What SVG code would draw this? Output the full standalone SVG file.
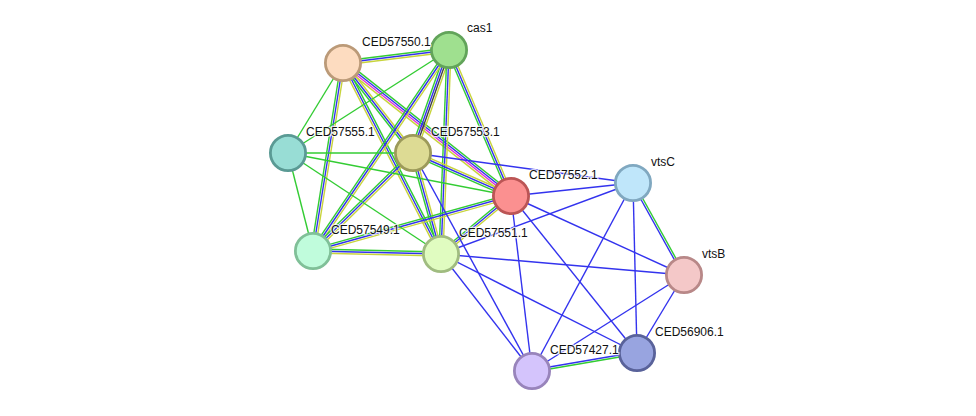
<svg xmlns="http://www.w3.org/2000/svg" width="976" height="416" viewBox="0 0 976 416">
<style>
line{stroke-width:1.4;fill:none}
.g{stroke:#33cc33}.b{stroke:#3333ee}.y{stroke:#c8d43c}.m{stroke:#dd33dd}.k{stroke:#444444}
.n circle{stroke-width:2.8}
text{font-family:"Liberation Sans",Arial,sans-serif;font-size:12px;fill:#111;stroke:#fff;stroke-width:2.5;stroke-opacity:0.75;paint-order:stroke;stroke-linejoin:round}
</style>
<rect width="976" height="416" fill="#fff"/>
<g id="edges">
<!-- A-C -->
<line class="g" x1="342.76" y1="61.01" x2="448.76" y2="48.01"/>
<line class="b" x1="343" y1="63" x2="449" y2="50"/>
<line class="y" x1="343.24" y1="64.99" x2="449.24" y2="51.99"/>
<!-- A-P -->
<line class="g" x1="341.03" y1="62.68" x2="311.03" y2="250.68"/>
<line class="b" x1="343" y1="63" x2="313" y2="251"/>
<line class="y" x1="344.97" y1="63.32" x2="314.97" y2="251.32"/>
<!-- A-T -->
<line class="g" x1="341.42" y1="64.23" x2="411.42" y2="154.23"/>
<line class="b" x1="343" y1="63" x2="413" y2="153"/>
<line class="y" x1="344.58" y1="61.77" x2="414.58" y2="151.77"/>
<!-- A-R -->
<line class="g" x1="344.86" y1="60.65" x2="512.86" y2="193.65"/>
<line class="b" x1="343.62" y1="62.22" x2="511.62" y2="195.22"/>
<line class="m" x1="342.38" y1="63.78" x2="510.38" y2="196.78"/>
<line class="y" x1="341.14" y1="65.35" x2="509.14" y2="198.35"/>
<!-- A-L -->
<line class="g" x1="344.78" y1="62.09" x2="442.78" y2="253.09"/>
<line class="b" x1="343" y1="63" x2="441" y2="254"/>
<line class="y" x1="341.22" y1="63.91" x2="439.22" y2="254.91"/>
<!-- C-T -->
<line class="g" x1="446.17" y1="49.01" x2="410.17" y2="152.01"/>
<line class="b" x1="448.06" y1="49.67" x2="412.06" y2="152.67"/>
<line class="k" x1="449.94" y1="50.33" x2="413.94" y2="153.33"/>
<line class="y" x1="451.83" y1="50.99" x2="415.83" y2="153.99"/>
<!-- C-P -->
<line class="g" x1="447.34" y1="48.88" x2="311.34" y2="249.88"/>
<line class="b" x1="449" y1="50" x2="313" y2="251"/>
<line class="y" x1="450.66" y1="51.12" x2="314.66" y2="252.12"/>
<!-- C-L -->
<line class="g" x1="447" y1="49.92" x2="439" y2="253.92"/>
<line class="b" x1="449" y1="50" x2="441" y2="254"/>
<line class="y" x1="451" y1="50.08" x2="443" y2="254.08"/>
<!-- C-R -->
<line class="g" x1="447.16" y1="50.78" x2="509.16" y2="196.78"/>
<line class="b" x1="449" y1="50" x2="511" y2="196"/>
<line class="y" x1="450.84" y1="49.22" x2="512.84" y2="195.22"/>
<!-- T-P -->
<line class="g" x1="411.6" y1="151.57" x2="311.6" y2="249.57"/>
<line class="b" x1="413" y1="153" x2="313" y2="251"/>
<line class="y" x1="414.4" y1="154.43" x2="314.4" y2="252.43"/>
<!-- T-L -->
<line class="g" x1="411.07" y1="153.53" x2="439.07" y2="254.53"/>
<line class="b" x1="413" y1="153" x2="441" y2="254"/>
<line class="y" x1="414.93" y1="152.47" x2="442.93" y2="253.47"/>
<!-- T-R -->
<line class="g" x1="412.2" y1="154.83" x2="510.2" y2="197.83"/>
<line class="b" x1="413" y1="153" x2="511" y2="196"/>
<line class="y" x1="413.8" y1="151.17" x2="511.8" y2="194.17"/>
<!-- R-P -->
<line class="g" x1="510.46" y1="194.07" x2="312.46" y2="249.07"/>
<line class="b" x1="511" y1="196" x2="313" y2="251"/>
<line class="y" x1="511.54" y1="197.93" x2="313.54" y2="252.93"/>
<!-- R-L -->
<line class="g" x1="509.72" y1="194.46" x2="439.72" y2="252.46"/>
<line class="b" x1="511" y1="196" x2="441" y2="254"/>
<line class="y" x1="512.28" y1="197.54" x2="442.28" y2="255.54"/>
<!-- P-L -->
<line class="g" x1="313.05" y1="249" x2="441.05" y2="252"/>
<line class="b" x1="313" y1="251" x2="441" y2="254"/>
<line class="y" x1="312.95" y1="253" x2="440.95" y2="256"/>
<!-- V-B -->
<line class="b" x1="632.13" y1="183.48" x2="683.13" y2="275.48"/>
<line class="g" x1="633.87" y1="182.52" x2="684.87" y2="274.52"/>
<!-- N-K -->
<line class="b" x1="636.83" y1="352.01" x2="531.83" y2="370.01"/>
<line class="g" x1="637.17" y1="353.99" x2="532.17" y2="371.99"/>
<!-- single green -->
<line class="g" x1="343" y1="63" x2="288" y2="153"/>
<line class="g" x1="449" y1="50" x2="288" y2="153"/>
<line class="g" x1="288" y1="153" x2="413" y2="153"/>
<line class="g" x1="288" y1="153" x2="511" y2="196"/>
<line class="g" x1="288" y1="153" x2="313" y2="251"/>
<line class="g" x1="288" y1="153" x2="441" y2="254"/>
<!-- single blue -->
<line class="b" x1="413" y1="153" x2="633" y2="183"/>
<line class="b" x1="413" y1="153" x2="532" y2="371"/>
<line class="b" x1="511" y1="196" x2="633" y2="183"/>
<line class="b" x1="511" y1="196" x2="684" y2="275"/>
<line class="b" x1="511" y1="196" x2="637" y2="353"/>
<line class="b" x1="511" y1="196" x2="532" y2="371"/>
<line class="b" x1="441" y1="254" x2="633" y2="183"/>
<line class="b" x1="441" y1="254" x2="684" y2="275"/>
<line class="b" x1="441" y1="254" x2="637" y2="353"/>
<line class="b" x1="441" y1="254" x2="532" y2="371"/>
<line class="b" x1="633" y1="183" x2="637" y2="353"/>
<line class="b" x1="633" y1="183" x2="532" y2="371"/>
<line class="b" x1="684" y1="275" x2="637" y2="353"/>
<line class="b" x1="684" y1="275" x2="532" y2="371"/>
</g>
<g class="n" id="CED57550.1"><circle cx="343" cy="63" r="17.6" fill="#fddcc0" stroke="#bb9a78"/></g>
<g class="n" id="cas1"><circle cx="449" cy="50" r="17.6" fill="#9fe08f" stroke="#62a45a"/></g>
<g class="n" id="CED57555.1"><circle cx="288" cy="153" r="17.6" fill="#98ddd5" stroke="#5a9a94"/></g>
<g class="n" id="CED57553.1"><circle cx="413" cy="153" r="17.6" fill="#dddb94" stroke="#9c9a5a"/></g>
<g class="n" id="CED57552.1"><circle cx="511" cy="196" r="17.6" fill="#fb9090" stroke="#bb5555"/></g>
<g class="n" id="vtsC"><circle cx="633" cy="183" r="17.6" fill="#bfe6fa" stroke="#80a8c0"/></g>
<g class="n" id="CED57549.1"><circle cx="313" cy="251" r="17.6" fill="#c0fcdc" stroke="#80c098"/></g>
<g class="n" id="CED57551.1"><circle cx="441" cy="254" r="17.6" fill="#e0fcc0" stroke="#a0bc80"/></g>
<g class="n" id="vtsB"><circle cx="684" cy="275" r="17.6" fill="#f4c8c8" stroke="#b88888"/></g>
<g class="n" id="CED56906.1"><circle cx="637" cy="353" r="17.6" fill="#98a4e0" stroke="#59629a"/></g>
<g class="n" id="CED57427.1"><circle cx="532" cy="371" r="17.6" fill="#d4c4fc" stroke="#9884bb"/></g>
<g id="labels">
<text x="362" y="46">CED57550.1</text>
<text x="467" y="32">cas1</text>
<text x="306" y="136">CED57555.1</text>
<text x="431" y="136">CED57553.1</text>
<text x="529" y="179">CED57552.1</text>
<text x="651" y="166">vtsC</text>
<text x="331" y="234">CED57549.1</text>
<text x="459" y="237">CED57551.1</text>
<text x="702" y="258">vtsB</text>
<text x="655" y="336">CED56906.1</text>
<text x="550" y="354">CED57427.1</text>
</g>
</svg>
